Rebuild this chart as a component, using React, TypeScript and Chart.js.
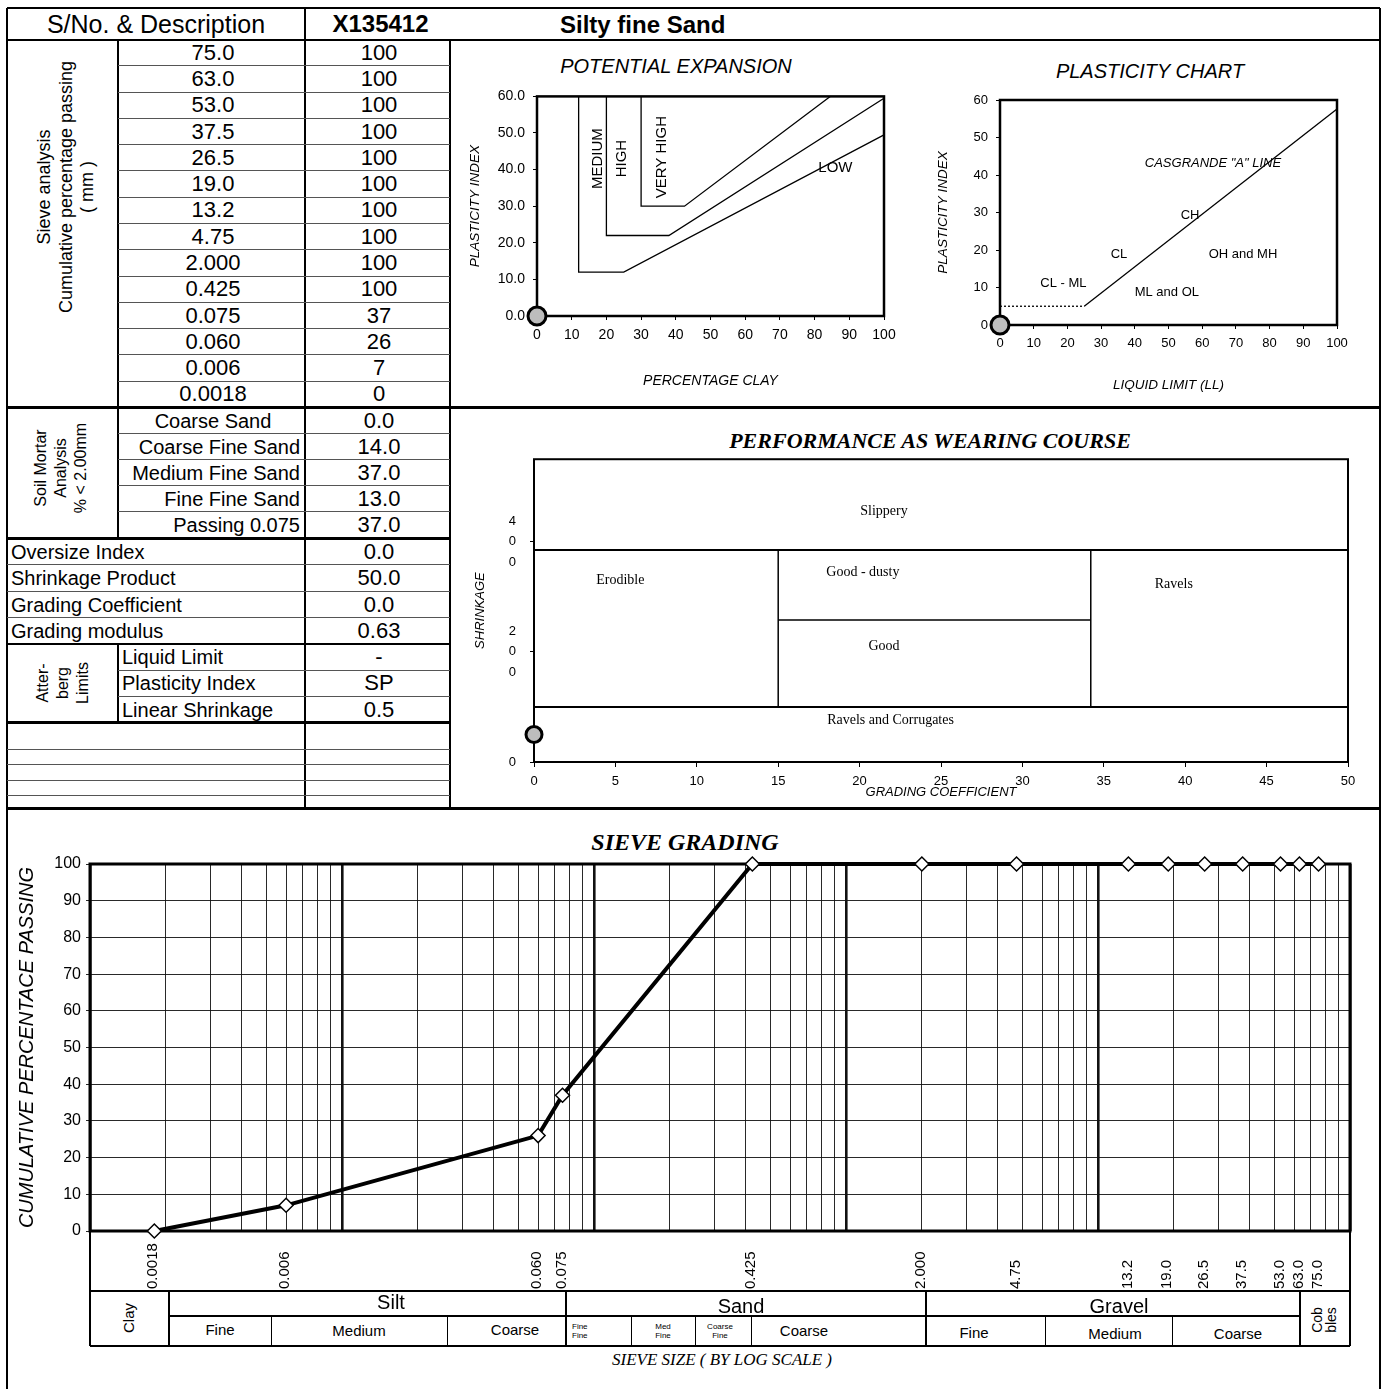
import React, { useEffect, useRef } from 'react';
import { Chart, registerables } from 'chart.js';

Chart.register(...registerables);

const SANS = '"Liberation Sans", Arial, sans-serif';
const SERIF = '"Liberation Serif", "Times New Roman", serif';
Chart.defaults.font.family = SANS;
Chart.defaults.color = '#000';

// ---------------- DATA ----------------
const sampleId = 'X135412';
const description = 'Silty fine Sand';

const sieveSizes = [75.0, 63.0, 53.0, 37.5, 26.5, 19.0, 13.2, 4.75, 2.0, 0.425, 0.075, 0.06, 0.006, 0.0018];
const sieveLabels = ['75.0', '63.0', '53.0', '37.5', '26.5', '19.0', '13.2', '4.75', '2.000', '0.425', '0.075', '0.060', '0.006', '0.0018'];
const passing = [100, 100, 100, 100, 100, 100, 100, 100, 100, 100, 37, 26, 7, 0];

const mortarLabels = ['Coarse Sand', 'Coarse Fine Sand', 'Medium Fine Sand', 'Fine Fine Sand', 'Passing 0.075'];
const mortarValues = ['0.0', '14.0', '37.0', '13.0', '37.0'];

const indexLabels = ['Oversize Index', 'Shrinkage Product', 'Grading Coefficient', 'Grading modulus'];
const indexValues = ['0.0', '50.0', '0.0', '0.63'];

const attLabels = ['Liquid Limit', 'Plasticity Index', 'Linear Shrinkage'];
const attValues = ['-', 'SP', '0.5'];

// sample positions on the small charts
const sampleClay = 0;
const samplePI = 0;
const sampleLL = 0;
const sampleGC = 0;
const sampleSP = 50;

// Potential expansion boundaries
const peMediumX = [12, 12, 25, 100];
const peMediumY = [60, 12, 12, 49.5];
const peHighX = [20, 20, 38, 100];
const peHighY = [60, 22, 22, 59.5];
const peVeryHighX = [30, 30, 42.5, 84.5];
const peVeryHighY = [60, 30, 30, 60];

// Plasticity chart lines
const clmlX = [0, 25];
const clmlY = [5, 5];
const aLineX = [25, 100];
const aLineY = [5, 57.6];

// Performance as wearing course boundaries
const perfSlipperySP = 385;
const perfRavelsSP = 100;
const perfDustySP = 258;
const perfGcLow = 15;
const perfGcHigh = 34.2;

// log grid multipliers for sieve chart
const decadeStarts = [0.001, 0.01, 0.1, 1, 10];
const decadeMultipliers = [1, 2, 3, 4, 5, 6, 7, 8, 9];

// ---------------- HELPERS ----------------
const pts = (xs: number[], ys: number[]) => xs.map((x, i) => ({ x, y: ys[i] }));

const lineDs = (data: any[], width = 1.3, dash: number[] = []) => ({
  data,
  showLine: true,
  borderColor: '#000',
  borderWidth: width,
  borderDash: dash,
  pointRadius: 0,
  pointHoverRadius: 0,
  fill: false,
  tension: 0,
  clip: false,
});

const markerDs = (x: number, y: number, r: number) => ({
  data: [{ x, y }],
  showLine: false,
  pointRadius: r,
  pointHoverRadius: r,
  pointBackgroundColor: '#bdbdbd',
  pointBorderColor: '#000',
  pointBorderWidth: 3,
  clip: false,
});

const framePlugin = (w: number) => ({
  id: 'frame',
  beforeDatasetsDraw(chart: any) {
    const { ctx, chartArea: a } = chart;
    ctx.save();
    ctx.strokeStyle = '#000';
    ctx.lineWidth = w;
    ctx.strokeRect(a.left, a.top, a.right - a.left, a.bottom - a.top);
    ctx.restore();
  },
});

type Note = { t: string; x: number; y: number; rot?: boolean; font: string };
const notesPlugin = (notes: Note[]) => ({
  id: 'notes',
  afterDatasetsDraw(chart: any) {
    const { ctx } = chart;
    const sx = chart.scales.x;
    const sy = chart.scales.y;
    notes.forEach((n) => {
      ctx.save();
      ctx.font = n.font;
      ctx.fillStyle = '#000';
      ctx.textAlign = 'center';
      ctx.textBaseline = 'middle';
      ctx.translate(sx.getPixelForValue(n.x), sy.getPixelForValue(n.y));
      if (n.rot) ctx.rotate(-Math.PI / 2);
      ctx.fillText(n.t, 0, 0);
      ctx.restore();
    });
  },
});

const sieveTickPlugin = {
  id: 'sieveTicks',
  afterDraw(chart: any) {
    const { ctx } = chart;
    const sx = chart.scales.x;
    const yb = chart.chartArea.bottom + 58;
    ctx.save();
    ctx.font = `15px ${SANS}`;
    ctx.fillStyle = '#000';
    ctx.textAlign = 'left';
    ctx.textBaseline = 'middle';
    sieveSizes.forEach((v, i) => {
      ctx.save();
      ctx.translate(sx.getPixelForValue(v) - 1, yb);
      ctx.rotate(-Math.PI / 2);
      ctx.fillText(sieveLabels[i], 0, 0);
      ctx.restore();
    });
    ctx.restore();
  },
};

const smallGrid = (len: number) => ({
  display: true,
  drawOnChartArea: false,
  drawTicks: true,
  tickLength: len,
  color: '#000',
  lineWidth: 1,
});

// ---------------- CHART CONFIGS ----------------
function peConfig(): any {
  const f = `15px ${SANS}`;
  return {
    type: 'scatter',
    data: {
      datasets: [
        lineDs(pts(peMediumX, peMediumY)),
        lineDs(pts(peHighX, peHighY)),
        lineDs(pts(peVeryHighX, peVeryHighY)),
        markerDs(sampleClay, samplePI, 9),
      ],
    },
    options: {
      animation: false,
      responsive: false,
      events: [],
      layout: { padding: { left: 0, right: 31, top: 15, bottom: 0 } },
      plugins: { legend: { display: false }, tooltip: { enabled: false } },
      scales: {
        x: {
          type: 'linear', min: 0, max: 100,
          ticks: { stepSize: 10, autoSkip: false, maxRotation: 0, font: { size: 14 }, color: '#000', padding: 6.6 },
          grid: smallGrid(4), border: { display: false },
          title: { display: true, text: 'PERCENTAGE CLAY', font: { size: 14, style: 'italic' }, color: '#000', padding: { top: 0, bottom: 10.6 } },
          afterFit: (s: any) => { s.height = 84; },
        },
        y: {
          type: 'linear', min: 0, max: 60,
          ticks: { stepSize: 10, font: { size: 14 }, color: '#000', padding: 8, callback: (v: any) => Number(v).toFixed(1) },
          grid: smallGrid(4), border: { display: false },
          title: { display: true, text: 'PLASTICITY INDEX', font: { size: 13.5, style: 'italic' }, color: '#000', padding: { top: 12, bottom: 0 } },
          afterFit: (s: any) => { s.width = 82; },
        },
      },
    },
    plugins: [
      framePlugin(2.5),
      notesPlugin([
        { t: 'MEDIUM', x: 17.6, y: 43, rot: true, font: f },
        { t: 'HIGH', x: 24.4, y: 43, rot: true, font: f },
        { t: 'VERY HIGH', x: 36, y: 43.4, rot: true, font: f },
        { t: 'LOW', x: 86, y: 40.5, font: f },
      ]),
    ],
  };
}

function pcConfig(): any {
  const f = `13px ${SANS}`;
  const fi = `italic 13px ${SANS}`;
  return {
    type: 'scatter',
    data: {
      datasets: [
        lineDs(pts(clmlX, clmlY), 1.3, [2, 2]),
        lineDs(pts(aLineX, aLineY), 1.3),
        markerDs(sampleLL, samplePI, 9),
      ],
    },
    options: {
      animation: false,
      responsive: false,
      events: [],
      layout: { padding: { left: 0, right: 38, top: 20, bottom: 0 } },
      plugins: { legend: { display: false }, tooltip: { enabled: false } },
      scales: {
        x: {
          type: 'linear', min: 0, max: 100,
          ticks: { stepSize: 10, autoSkip: false, maxRotation: 0, font: { size: 13 }, color: '#000', padding: 7 },
          grid: smallGrid(4), border: { display: false },
          title: { display: true, text: 'LIQUID LIMIT (LL)', font: { size: 13.5, style: 'italic' }, color: '#000', padding: { top: 0, bottom: 7 } },
          afterFit: (s: any) => { s.height = 75; },
        },
        y: {
          type: 'linear', min: 0, max: 60,
          ticks: { stepSize: 10, font: { size: 13 }, color: '#000', padding: 8 },
          grid: smallGrid(4), border: { display: false },
          title: { display: true, text: 'PLASTICITY INDEX', font: { size: 13.5, style: 'italic' }, color: '#000', padding: { top: 10, bottom: 0 } },
          afterFit: (s: any) => { s.width = 75; },
        },
      },
    },
    plugins: [
      framePlugin(2.5),
      notesPlugin([
        { t: 'CASGRANDE "A" LINE', x: 63.2, y: 43.2, font: fi },
        { t: 'CH', x: 56.4, y: 29.3, font: f },
        { t: 'CL', x: 35.3, y: 18.7, font: f },
        { t: 'OH and MH', x: 72.1, y: 18.7, font: f },
        { t: 'CL - ML', x: 18.8, y: 11.2, font: f },
        { t: 'ML and OL', x: 49.5, y: 8.8, font: f },
      ]),
    ],
  };
}

function perfConfig(): any {
  const f = `14px ${SERIF}`;
  return {
    type: 'scatter',
    data: {
      datasets: [
        lineDs(pts([0, 50], [perfSlipperySP, perfSlipperySP]), 2),
        lineDs(pts([0, 50], [perfRavelsSP, perfRavelsSP]), 2),
        lineDs(pts([perfGcLow, perfGcLow], [perfRavelsSP, perfSlipperySP]), 1.5),
        lineDs(pts([perfGcHigh, perfGcHigh], [perfRavelsSP, perfSlipperySP]), 1.5),
        lineDs(pts([perfGcLow, perfGcHigh], [perfDustySP, perfDustySP]), 1.5),
        markerDs(sampleGC, sampleSP, 8),
      ],
    },
    options: {
      animation: false,
      responsive: false,
      events: [],
      layout: { padding: { left: 0, right: 27, top: 40, bottom: 0 } },
      plugins: { legend: { display: false }, tooltip: { enabled: false } },
      scales: {
        x: {
          type: 'linear', min: 0, max: 50,
          ticks: { stepSize: 5, autoSkip: false, maxRotation: 0, font: { size: 13 }, color: '#000', padding: 7 },
          grid: smallGrid(5), border: { display: false },
          title: { display: true, text: 'GRADING COEFFICIENT', font: { size: 13, style: 'italic' }, color: '#000', padding: { top: 0, bottom: 5.2 } },
          afterFit: (s: any) => { s.height = 43; },
        },
        y: {
          type: 'linear', min: 0, max: 550,
          ticks: {
            stepSize: 200, includeBounds: false, font: { size: 13, lineHeight: 1.55 }, color: '#000', padding: 14,
            callback: (v: any) => (Number(v) === 0 ? '0' : String(v).split('')),
          },
          grid: smallGrid(4), border: { display: false },
          title: { display: true, text: 'SHRINKAGE', font: { size: 13, style: 'italic' }, color: '#000', padding: { top: 18, bottom: 0 } },
          afterFit: (s: any) => { s.width = 79; },
        },
      },
    },
    plugins: [
      framePlugin(2),
      notesPlugin([
        { t: 'Slippery', x: 21.5, y: 455, font: f },
        { t: 'Erodible', x: 5.3, y: 330, font: f },
        { t: 'Good - dusty', x: 20.2, y: 344, font: f },
        { t: 'Ravels', x: 39.3, y: 323, font: f },
        { t: 'Good', x: 21.5, y: 211, font: f },
        { t: 'Ravels and Corrugates', x: 21.9, y: 75, font: f },
      ]),
    ],
  };
}

function sieveConfig(): any {
  const gridVals: number[] = [];
  decadeStarts.forEach((d) => decadeMultipliers.forEach((m) => gridVals.push(+(d * m).toPrecision(4))));
  gridVals.push(100);
  const isDecade = (v: number) => {
    const l = Math.log10(v);
    return Math.abs(l - Math.round(l)) < 1e-6;
  };
  return {
    type: 'scatter',
    data: {
      datasets: [
        {
          data: pts(sieveSizes, passing),
          showLine: true,
          borderColor: '#000',
          borderWidth: 4,
          tension: 0,
          pointStyle: 'rectRot',
          pointRadius: 7,
          pointHoverRadius: 7,
          pointBackgroundColor: '#fff',
          pointBorderColor: '#000',
          pointBorderWidth: 1.5,
          clip: false,
        },
      ],
    },
    options: {
      animation: false,
      responsive: false,
      events: [],
      layout: { padding: { left: 0, right: 25, top: 22, bottom: 0 } },
      plugins: { legend: { display: false }, tooltip: { enabled: false } },
      scales: {
        x: {
          type: 'logarithmic', min: 0.001, max: 100,
          afterBuildTicks: (s: any) => { s.ticks = gridVals.map((v) => ({ value: v })); },
          ticks: { display: false },
          grid: {
            color: '#111',
            drawTicks: false,
            lineWidth: (c: any) => (c.tick && isDecade(c.tick.value) ? 2.6 : 0.9),
          },
          border: { display: false },
          afterFit: (s: any) => { s.height = 66; },
        },
        y: {
          type: 'linear', min: 0, max: 100,
          ticks: { stepSize: 10, font: { size: 16 }, color: '#000', padding: 5 },
          grid: { color: '#111', lineWidth: 0.9, tickLength: 4 },
          border: { display: false },
          title: { display: true, text: 'CUMULATIVE PERCENTACE PASSING', font: { size: 20, style: 'italic' }, color: '#000', padding: { top: 5, bottom: 0 } },
          afterFit: (s: any) => { s.width = 80; },
        },
      },
    },
    plugins: [framePlugin(3), sieveTickPlugin],
  };
}

// ---------------- COMPONENTS ----------------
function ChartBox({ x, y, w, h, make }: any) {
  const ref = useRef<HTMLCanvasElement>(null);
  useEffect(() => {
    if (!ref.current) return;
    const c = new Chart(ref.current, make());
    return () => c.destroy();
  }, []);
  return (
    <canvas
      ref={ref}
      width={w}
      height={h}
      style={{ position: 'absolute', left: x, top: y, width: w, height: h }}
    />
  );
}

function Tx({ x, y, s = 20, a = 'c', b = false, it = false, serif = false, rot = false, lh, children }: any) {
  const tx = a === 'c' ? '-50%' : a === 'r' ? '-100%' : '0';
  return (
    <div
      style={{
        position: 'absolute',
        left: x,
        top: y,
        transform: rot ? 'translate(-50%,-50%) rotate(-90deg)' : `translate(${tx},-50%)`,
        fontFamily: serif ? SERIF : SANS,
        fontSize: s,
        fontWeight: b ? 'bold' : 'normal',
        fontStyle: it ? 'italic' : 'normal',
        whiteSpace: 'pre',
        lineHeight: lh ? `${lh}px` : 1.15,
        textAlign: 'center',
        color: '#000',
      }}
    >
      {children}
    </div>
  );
}

const lines: any[] = [];
const H = (x1: number, x2: number, y: number, t = 1, c = '#000') =>
  lines.push({ left: x1, top: y - t / 2, width: x2 - x1, height: t, background: c });
const V = (x: number, y1: number, y2: number, t = 1, c = '#000') =>
  lines.push({ left: x - t / 2, top: y1, width: t, height: y2 - y1, background: c });

// layout constants
const X0 = 7, XA = 118, XB = 305, XC = 450, XR = 1380;
const YH0 = 8, YH1 = 39.5;
const SR_H = 26.29;
const YM0 = 407.5, MR_H = 26.1;
const YI0 = 538.5, IR_H = 26.4;
const YA0 = 644, AR_H = 26.3;
const YE0 = 722.5, YE1 = 808.5;
const THIN = '#555';

// outer frame & header
H(X0, XR, YH0, 2);
H(X0, XR, YH1, 2);
V(X0, YH0, 1389, 2);
V(XR, YH0, 1389, 2);
V(XB, YH0, YH1, 2);
// body columns
V(XA, YH1, YI0, 2);
V(XA, YA0, YE0, 2);
V(XB, YH1, YE1, 2);
V(XC, YH1, YE1, 2);
// thick separators
H(X0, XR, YM0, 2.5);
H(X0, XC, YI0, 2.5);
H(X0, XC, YA0, 2.5);
H(X0, XC, YE0, 2.5);
H(X0, XR, YE1, 2.5);
// thin rows
for (let i = 1; i < sieveSizes.length; i++) H(XA, XC, YH1 + SR_H * i, 1, THIN);
for (let i = 1; i < mortarLabels.length; i++) H(XA, XC, YM0 + MR_H * i, 1, THIN);
for (let i = 1; i < indexLabels.length; i++) H(X0, XC, YI0 + IR_H * i, 1, THIN);
for (let i = 1; i < attLabels.length; i++) H(XA, XC, YA0 + AR_H * i, 1, THIN);
[749.5, 764.5, 780, 795].forEach((y) => H(X0, XC, y, 1, THIN));
// sieve grading side lines & class table
V(90, 1231, 1346, 1.5);
V(1350, 1231, 1346, 1.5);
H(90, 1350, 1291, 1.5);
H(90, 1350, 1346, 1.5);
H(169, 1300, 1316, 1.2);
[169, 566, 926, 1300].forEach((x) => V(x, 1291, 1346, 1.2));
[271, 447, 631, 695, 751, 1045, 1172].forEach((x) => V(x, 1316, 1346, 1));

export default function App() {
  return (
    <div
      style={{
        position: 'absolute',
        left: 0,
        top: 0,
        width: 1382,
        height: 1389,
        background: '#fff',
        overflow: 'hidden',
      }}
    >
      {lines.map((st, i) => (
        <div key={'l' + i} style={{ position: 'absolute', ...st }} />
      ))}

      {/* header */}
      <Tx x={(X0 + XB) / 2} y={24} s={25}>S/No. &amp; Description</Tx>
      <Tx x={(XB + XC) / 2 + 3} y={24} s={24} b>{sampleId}</Tx>
      <Tx x={560} y={25} s={24} b a="l">{description}</Tx>

      {/* sieve rows */}
      <Tx x={66} y={187} s={18} rot lh={21.5}>{'Sieve analysis\nCumulative percentage passing\n( mm )'}</Tx>
      {sieveLabels.map((lab, i) => (
        <Tx key={'s' + i} x={213} y={YH1 + SR_H * (i + 0.5)} s={22}>{lab}</Tx>
      ))}
      {passing.map((v, i) => (
        <Tx key={'p' + i} x={379} y={YH1 + SR_H * (i + 0.5)} s={22}>{String(v)}</Tx>
      ))}

      {/* soil mortar */}
      <Tx x={61} y={468} s={16} rot lh={20}>{'Soil Mortar\nAnalysis\n% < 2.00mm'}</Tx>
      {mortarLabels.map((lab, i) => (
        <Tx key={'m' + i} x={i === 0 ? 213 : 300} a={i === 0 ? 'c' : 'r'} y={YM0 + MR_H * (i + 0.5)} s={20}>{lab}</Tx>
      ))}
      {mortarValues.map((v, i) => (
        <Tx key={'mv' + i} x={379} y={YM0 + MR_H * (i + 0.5)} s={22}>{v}</Tx>
      ))}

      {/* indices */}
      {indexLabels.map((lab, i) => (
        <Tx key={'i' + i} x={11} a="l" y={YI0 + IR_H * (i + 0.5)} s={20}>{lab}</Tx>
      ))}
      {indexValues.map((v, i) => (
        <Tx key={'iv' + i} x={379} y={YI0 + IR_H * (i + 0.5)} s={22}>{v}</Tx>
      ))}

      {/* atterberg */}
      <Tx x={63} y={683} s={16} rot lh={20}>{'Atter-\nberg\nLimits'}</Tx>
      {attLabels.map((lab, i) => (
        <Tx key={'a' + i} x={122} a="l" y={YA0 + AR_H * (i + 0.5)} s={20}>{lab}</Tx>
      ))}
      {attValues.map((v, i) => (
        <Tx key={'av' + i} x={379} y={YA0 + AR_H * (i + 0.5)} s={22}>{v}</Tx>
      ))}

      {/* chart titles */}
      <Tx x={676} y={66} s={20} it>POTENTIAL EXPANSION</Tx>
      <Tx x={1150} y={71} s={20} it>PLASTICITY CHART</Tx>
      <Tx x={930} y={441} s={22} b it serif>PERFORMANCE AS WEARING COURSE</Tx>
      <Tx x={685} y={843} s={24} b it serif>SIEVE GRADING</Tx>

      <ChartBox x={455} y={80} w={460} h={320} make={peConfig} />
      <ChartBox x={925} y={80} w={450} h={320} make={pcConfig} />
      <ChartBox x={455} y={415} w={920} h={390} make={perfConfig} />
      <ChartBox x={10} y={842} w={1365} h={455} make={sieveConfig} />

      {/* classification table */}
      <Tx x={129} y={1318} s={15} rot>Clay</Tx>
      <Tx x={391} y={1302} s={20}>Silt</Tx>
      <Tx x={741} y={1306} s={20}>Sand</Tx>
      <Tx x={1119} y={1306} s={20}>Gravel</Tx>
      <Tx x={1324} y={1320} s={14} rot lh={14}>{'Cob\nbles'}</Tx>
      <Tx x={220} y={1330} s={15}>Fine</Tx>
      <Tx x={359} y={1331} s={15}>Medium</Tx>
      <Tx x={515} y={1330} s={15}>Coarse</Tx>
      <Tx x={572} y={1331} s={8} a="l" lh={9}>{'Fine\nFine'}</Tx>
      <Tx x={663} y={1331} s={8} lh={9}>{'Med\nFine'}</Tx>
      <Tx x={720} y={1331} s={8} lh={9}>{'Coarse\nFine'}</Tx>
      <Tx x={804} y={1331} s={15}>Coarse</Tx>
      <Tx x={974} y={1333} s={15}>Fine</Tx>
      <Tx x={1115} y={1334} s={15}>Medium</Tx>
      <Tx x={1238} y={1334} s={15}>Coarse</Tx>
      <Tx x={722} y={1360} s={17} it serif>SIEVE SIZE ( BY LOG SCALE )</Tx>
    </div>
  );
}
